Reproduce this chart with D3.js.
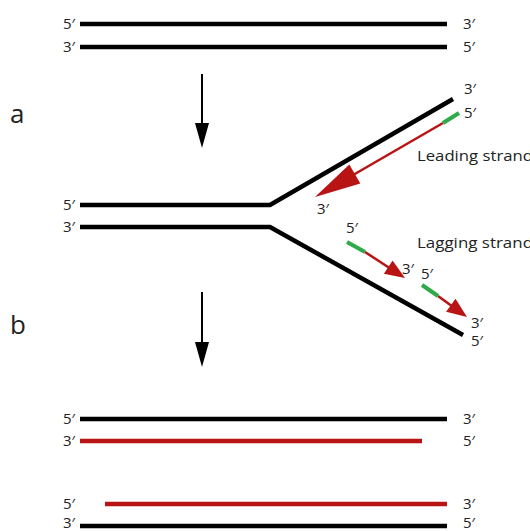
<!DOCTYPE html>
<html><head><meta charset="utf-8">
<script src="https://cdn.jsdelivr.net/npm/d3@7"></script>
<style>body{margin:0;background:#fff;overflow:hidden}svg{display:block}text{font-family:"Open Sans","Liberation Sans",sans-serif;fill:#222}</style>
</head><body><div id="c"></div>
<script>
// Diagram layout values (in reference pixel units, mapped through scales)
const strandColors = {parent:"#000000", newStrand:"#b81414", primer:"#2eaa48"};
// strands as polylines: [[x,y],...], kind
const strands = [
  [[[80,24],[447,24]],"parent"],[[[80,47],[447,47]],"parent"],
  [[[80,205],[270,205],[453,99]],"parent"],[[[80,227],[270,227],[463,335]],"parent"],
  [[[80,419],[447,419]],"parent"],[[[80,441],[422,441]],"newStrand"],
  [[[105,504],[447,504]],"newStrand"],[[[80,526],[447,526]],"parent"]
];
// primers: [x1,y1,x2,y2]
const primers = [[459,113,443,123],[347,242,365,252],[422,285,438,296]];
// new strand arrows: [x1,y1,tipX,tipY,headLen,headWidth]
const newArrows = [[443,123,315,197,46,22],[365,252,405,278,20,16],[438,296,467,317,20,16]];
// process arrows: [x, y1, y2]
const stepArrows = [[202,74,148],[202,292,367]];
// labels: [text, x, y, size, textLength]
const labels = [
  ["5′",63,29,15],["3′",63,52,15],["3′",463,29,15],["5′",463,52,15],
  ["a",10,123,26],["b",10,334,26],
  ["3′",464,94,15],["5′",464,118,15],["Leading strand",417,161,15,116],
  ["3′",317,214,15],["5′",63,210,15],["3′",63,232,15],
  ["5′",346,233,15],["Lagging strand",417,248,15,116],
  ["3′",402,274,15],["5′",421,279,15],["3′",471,328,15],["5′",471,346,15],
  ["5′",63,424,15],["3′",63,446,15],["3′",463,424,15],["5′",463,446,15],
  ["5′",63,509,15],["3′",63,528,15],["3′",463,509,15],["5′",463,528,15]
];

const W=530,H=531;
const x=d3.scaleLinear().domain([0,530]).range([0,W]);
const y=d3.scaleLinear().domain([0,531]).range([0,H]);
const svg=d3.select("#c").append("svg").attr("width",W).attr("height",H);
const line=d3.line().x(p=>x(p[0])).y(p=>y(p[1]));

svg.selectAll("path.strand").data(strands).join("path").attr("class","strand")
  .attr("d",d=>line(d[0])).attr("fill","none")
  .attr("stroke",d=>strandColors[d[1]]).attr("stroke-width",4.5).attr("stroke-linejoin","miter");

// new-strand arrows
newArrows.forEach(a=>{
  const [x1,y1,tx,ty,hl,hw]=a;
  const dx=tx-x1, dy=ty-y1, L=Math.hypot(dx,dy), ux=dx/L, uy=dy/L;
  const bx=tx-ux*hl, by=ty-uy*hl;
  svg.append("path").attr("d",line([[x1,y1],[bx+ux*2,by+uy*2]]))
    .attr("stroke",strandColors.newStrand).attr("stroke-width",2.5);
  const px=-uy, py=ux;
  svg.append("path").attr("d",line([[tx,ty],[bx+px*hw/2,by+py*hw/2],[bx-px*hw/2,by-py*hw/2]])+"Z")
    .attr("fill",strandColors.newStrand);
});
svg.selectAll("path.primer").data(primers).join("path").attr("class","primer")
  .attr("d",d=>line([[d[0],d[1]],[d[2],d[3]]]))
  .attr("stroke",strandColors.primer).attr("stroke-width",4);

stepArrows.forEach(a=>{
  const [ax,y1,y2]=a;
  svg.append("path").attr("d",line([[ax,y1],[ax,y2-20]]))
    .attr("stroke","#000").attr("stroke-width",2);
  svg.append("path").attr("d",line([[ax,y2],[ax-7,y2-25],[ax+7,y2-25]])+"Z").attr("fill","#000");
});

const t=svg.selectAll("text").data(labels).join("text")
  .attr("x",d=>x(d[1])).attr("y",d=>y(d[2])).attr("font-size",d=>d[3]).text(d=>d[0]);
t.filter(d=>d[4]).attr("textLength",d=>d[4]).attr("lengthAdjust","spacingAndGlyphs");
</script></body></html>
